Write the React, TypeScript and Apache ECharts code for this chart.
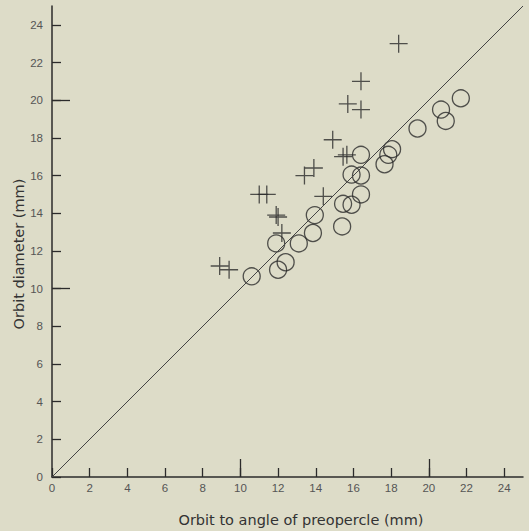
import React, { useEffect, useRef } from "react";
import * as echarts from "echarts";

const tickValues = [0, 2, 4, 6, 8, 10, 12, 14, 16, 18, 20, 22, 24];
const majorTicks = [10, 20];

const crossPoints: [number, number][] = [
  [8.9, 11.2], [9.4, 11.0], [11.0, 15.0], [11.4, 15.0], [11.9, 13.9], [12.0, 13.8],
  [12.2, 12.95], [13.4, 16.0], [13.9, 16.4], [14.4, 14.9], [14.9, 17.9], [15.45, 17.0],
  [15.65, 17.1], [15.7, 19.8], [16.4, 19.5], [16.4, 21.0], [18.4, 23.0],
];

const circlePoints: [number, number][] = [
  [10.6, 10.65], [12.0, 11.0], [12.4, 11.4], [11.9, 12.4], [13.1, 12.4], [13.85, 12.95],
  [13.95, 13.9], [15.4, 13.3], [15.45, 14.5], [15.9, 14.45], [16.4, 15.0], [15.9, 16.05],
  [16.4, 16.0], [16.4, 17.1], [17.65, 16.6], [17.85, 17.1], [18.05, 17.4], [19.4, 18.5],
  [20.65, 19.5], [20.9, 18.9], [21.7, 20.1],
];

const identityLine: [number, number][] = [[0, 0], [25, 25]];

const xTitle = "Orbit to angle of preopercle (mm)";
const yTitle = "Orbit diameter (mm)";

const ink = "#2b2b2b";
const labelColor = "#555";
const font = "'Liberation Sans', Arial, sans-serif";

export default function App() {
  const ref = useRef<HTMLDivElement>(null);
  useEffect(() => {
    if (!ref.current) return;
    const chart = echarts.init(ref.current, undefined, { renderer: "svg" });
    const mainAxis = (isX: boolean) => ({
      type: "value",
      min: 0,
      max: 25,
      axisLine: { show: true, onZero: false, lineStyle: { color: ink, width: 1.5 } },
      axisTick: {
        show: true,
        inside: true,
        length: 9,
        customValues: tickValues,
        lineStyle: { color: ink, width: 1.3 },
      },
      axisLabel: {
        show: true,
        customValues: tickValues,
        color: labelColor,
        fontSize: 11.5,
        fontFamily: font,
        margin: isX ? 5 : 9,
      },
      splitLine: { show: false },
    });
    const majorAxis = (isX: boolean) => ({
      type: "value",
      min: 0,
      max: 25,
      position: isX ? "bottom" : "left",
      axisLine: { show: false },
      axisTick: {
        show: true,
        inside: true,
        length: 18,
        customValues: majorTicks,
        lineStyle: { color: ink, width: 1.3 },
      },
      axisLabel: { show: false },
      splitLine: { show: false },
    });
    chart.setOption({
      animation: false,
      backgroundColor: "#dddcc8",
      grid: { left: 52, right: 6, top: 6, bottom: 54, containLabel: false },
      xAxis: [
        { ...mainAxis(true), position: "bottom" },
        majorAxis(true),
      ],
      yAxis: [
        { ...mainAxis(false), position: "left" },
        majorAxis(false),
      ],
      graphic: [
        {
          type: "text",
          x: 301,
          y: 520,
          style: {
            text: xTitle,
            fill: "#333",
            font: `14.5px 'DejaVu Sans', sans-serif`,
            align: "center",
            verticalAlign: "middle",
          },
        },
        {
          type: "text",
          x: 19,
          y: 254,
          rotation: Math.PI / 2,
          style: {
            text: yTitle,
            fill: "#333",
            font: `14.5px 'DejaVu Sans', sans-serif`,
            align: "center",
            verticalAlign: "middle",
          },
        },
      ],
      series: [
        {
          type: "line",
          data: identityLine,
          showSymbol: false,
          lineStyle: { color: "#444", width: 1 },
          silent: true,
        },
        {
          type: "scatter",
          data: circlePoints,
          symbol: "circle",
          symbolSize: 17,
          itemStyle: { color: "rgba(0,0,0,0)", borderColor: ink, borderWidth: 1.3 },
        },
        {
          type: "scatter",
          data: crossPoints,
          symbol: "path://M10,0 L10,20 M0,10 L20,10",
          symbolSize: 18,
          itemStyle: { color: "rgba(0,0,0,0)", borderColor: ink, borderWidth: 1.3 },
        },
      ],
    });
    return () => chart.dispose();
  }, []);
  return (
    <div
      ref={ref}
      style={{ position: "fixed", left: 0, top: 0, width: 529, height: 531 }}
    />
  );
}
